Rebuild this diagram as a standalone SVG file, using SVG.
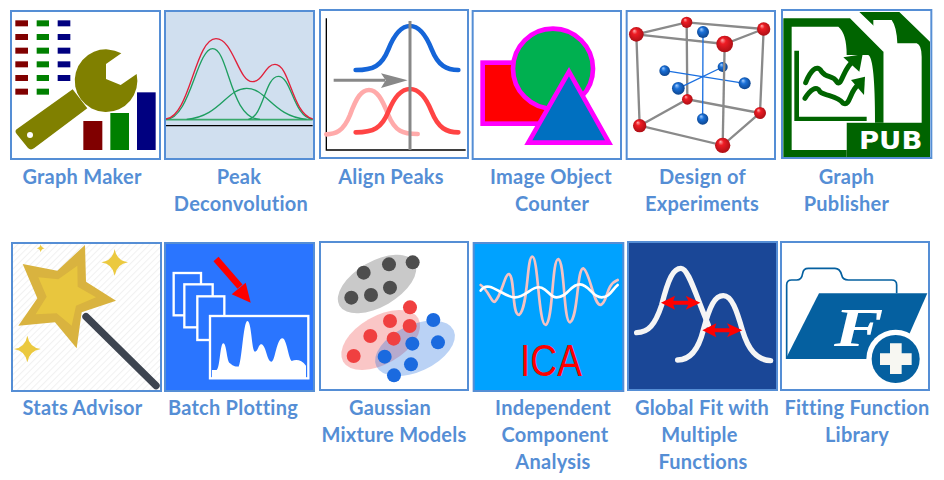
<svg xmlns="http://www.w3.org/2000/svg" xmlns:xlink="http://www.w3.org/1999/xlink" width="944" height="480" viewBox="0 0 944 480">
<defs>
<style>
.frame{fill:none;stroke:#558ed5;stroke-width:6}
.lbl{font-family:Lato,"Open Sans","Liberation Sans",sans-serif;font-weight:700;font-size:20px;fill:#558ed5;text-anchor:middle;letter-spacing:.25px}
.ln{fill:none;stroke-linecap:round}
.gn{fill:none;stroke:#1e9e60;stroke-width:4}
.gy{stroke:#8a8a8a;stroke-width:7;fill:none}
.bl{stroke:#1a6fe0;stroke-width:4;fill:none}
.rb{fill:url(#ballR)}
.bb{fill:url(#ballB)}
.dg{fill:#4d4d4d}
.dr{fill:#f04040}
.db{fill:#1a6adf}
.dark{fill:#006400}
</style>
<radialGradient id="ballR" cx=".5" cy=".5" r=".6" fx=".35" fy=".25"><stop offset="0" stop-color="#ffb0b0"/><stop offset=".3" stop-color="#ee1c24"/><stop offset="1" stop-color="#a00c12"/></radialGradient>
<radialGradient id="ballB" cx=".5" cy=".5" r=".6" fx=".35" fy=".25"><stop offset="0" stop-color="#a8d0ff"/><stop offset=".35" stop-color="#1a70d8"/><stop offset="1" stop-color="#0a3c80"/></radialGradient>
<pattern id="hatch" width="14" height="14" patternUnits="userSpaceOnUse" patternTransform="rotate(45)"><rect width="14" height="14" fill="#fff"/><rect width="3" height="14" fill="#f1f1f1"/></pattern>
<path id="spark" d="M-40,0Q-6,-5 0,-40Q6,-5 40,0Q6,5 0,40Q-6,5 -40,0Z" fill="#ebc93f"/>
</defs>

<g id="graph-maker">
<g transform="scale(.33333)">
<rect x="33" y="33" width="447" height="444" fill="#fff"/>
<g fill="#800000"><rect x="46" y="61" width="38" height="18"/><rect x="46" y="102" width="38" height="18"/><rect x="46" y="143" width="38" height="18"/><rect x="46" y="184" width="38" height="18"/><rect x="46" y="225" width="38" height="18"/><rect x="46" y="266" width="38" height="18"/><rect x="250" y="363" width="57" height="87"/></g>
<g fill="#008000"><rect x="110" y="61" width="37" height="18"/><rect x="110" y="102" width="37" height="18"/><rect x="110" y="143" width="37" height="18"/><rect x="110" y="184" width="37" height="18"/><rect x="110" y="225" width="37" height="18"/><rect x="110" y="266" width="37" height="18"/><rect x="331" y="339" width="56" height="111"/></g>
<g fill="#000080"><rect x="173" y="61" width="38" height="18"/><rect x="173" y="102" width="38" height="18"/><rect x="173" y="143" width="38" height="18"/><rect x="173" y="184" width="38" height="18"/><rect x="173" y="225" width="38" height="18"/><rect x="411" y="277" width="56" height="173"/></g>
<path fill="#808000" d="M364,160L318,192L318,237L362,255L410,222A94,94 0 1 1 364,160Z"/>
<path fill="#808000" d="M218,268L262,325L102,445Q92,452 84,444L50,402Q42,392 52,386Z"/>
<circle cx="90" cy="405" r="9" fill="#fff"/>
<rect class="frame" x="33" y="33" width="447" height="444"/>
</g>
<text class="lbl" x="82" y="183.500">Graph Maker</text>
</g>

<g id="peak-deconvolution">
<g transform="scale(.33333)">
<rect x="495" y="33" width="447" height="444" fill="#d0dfef"/>
<path d="M498,359H938" stroke="#3aa96c" stroke-width="5"/>
<path d="M498,377H938" stroke="#000" stroke-width="4"/>
<path class="gn" d="M498,358C570,358 590,146 638,146C686,146 690,358 780,358"/>
<path class="gn" d="M560,358C660,350 680,265 740,265C800,265 820,350 920,358"/>
<path class="gn" d="M745,358C790,352 795,229 835,229C875,229 880,352 938,358"/>
<path d="M498,357C570,350 585,116 648,116C700,116 715,245 757,245C790,245 795,193 825,193C870,193 875,340 938,357" fill="none" stroke="#e0203a" stroke-width="4"/>
<rect class="frame" x="495" y="33" width="447" height="444"/>
</g>
<text class="lbl" x="239" y="183.500">Peak</text>
<text class="lbl" x="241" y="210.500">Deconvolution</text>
</g>

<g id="align-peaks">
<g transform="translate(315,0) scale(.33333)">
<rect x="15" y="30" width="444" height="444" fill="#fff"/>
<path d="M34,55V450M32,450H452" stroke="#000" stroke-width="4" fill="none"/>
<path class="ln" stroke="#ffaaaa" stroke-width="14" d="M34,403C60,403 85,395 105,345C125,290 140,270 162,270C185,270 200,295 220,345C240,395 265,402 308,402"/>
<path class="ln" stroke="#ff4444" stroke-width="14" d="M122,397C175,397 200,385 220,335C240,285 260,267 285,267C310,267 330,285 350,335C370,385 395,397 430,397"/>
<path class="ln" stroke="#1565d8" stroke-width="14" d="M122,210C175,210 200,198 220,148C240,98 260,78 285,78C310,78 330,98 350,148C370,198 395,210 430,210"/>
<path d="M285,63V450" stroke="#888" stroke-width="9"/>
<path d="M56,241H210" stroke="#888" stroke-width="9"/>
<path d="M198,220L278,241L198,264L212,241Z" fill="#888"/>
<rect class="frame" x="15" y="30" width="444" height="444"/>
</g>
<text class="lbl" x="391" y="183.500">Align Peaks</text>
</g>

<g id="image-object-counter">
<g transform="translate(315,0) scale(.33333)">
<rect x="473" y="33" width="445" height="444" fill="#fff"/>
<rect x="503" y="188" width="195" height="183" fill="#f00" stroke="#f0f" stroke-width="14"/>
<circle cx="714" cy="206" r="120" fill="#00b050" stroke="#f0f" stroke-width="14"/>
<path d="M762,215L640,428H882Z" fill="#0070c0" stroke="#f0f" stroke-width="14"/>
<rect class="frame" x="473" y="33" width="445" height="444"/>
</g>
<text class="lbl" x="551" y="183.500">Image Object</text>
<text class="lbl" x="552" y="210.500">Counter</text>
</g>

<g id="design-of-experiments">
<g transform="translate(620,0) scale(.33333)">
<rect x="20" y="33" width="445" height="444" fill="#fff"/>
<path class="gy" d="M49,103L200,67L431,87L314,132ZM59,377L202,298L420,339L308,436ZM49,103L59,377M200,67L202,298M431,87L420,339"/>
<circle class="rb" cx="200" cy="67" r="17"/><circle class="rb" cx="202" cy="298" r="16"/>
<path class="bl" d="M249,96L248,357M134,212L374,250M175,265L308,201"/>
<circle class="bb" cx="249" cy="96" r="18"/><circle class="bb" cx="248" cy="357" r="17"/><circle class="bb" cx="134" cy="212" r="16"/><circle class="bb" cx="374" cy="250" r="18"/><circle class="bb" cx="175" cy="265" r="19"/><circle class="bb" cx="308" cy="201" r="15"/>
<path class="gy" d="M314,132L308,436"/>
<circle class="rb" cx="49" cy="103" r="22"/><circle class="rb" cx="431" cy="87" r="20"/><circle class="rb" cx="314" cy="132" r="25"/><circle class="rb" cx="59" cy="377" r="20"/><circle class="rb" cx="420" cy="339" r="18"/><circle class="rb" cx="308" cy="436" r="23"/>
<rect class="frame" x="20" y="33" width="445" height="444"/>
</g>
<text class="lbl" x="702.500" y="183.500">Design of</text>
<text class="lbl" x="702" y="210.500">Experiments</text>
</g>

<g id="graph-publisher">
<g transform="translate(620,0) scale(.33333)">
<rect x="486" y="30" width="448" height="444" fill="#fff"/>
<path class="dark" d="M718,36H838L930,125V472H680V368H790V105Z"/>
<path fill="#fff" d="M760,60H815Q830,80 832,130H890Q905,135 905,170V368H790V155L760,125Z"/>
<path class="dark" d="M490,55H690L790,155V368H680V472H490Z"/>
<path fill="#fff" d="M515,80H655Q680,100 680,165H745Q765,175 765,368H680V450H515Z"/>
<path class="dark" d="M523,152H537V350H740V363H523Z"/>
<path class="ln" stroke="#006400" stroke-width="15" d="M557,248C570,215 590,190 605,215C620,235 640,225 650,245C665,265 670,200 700,185"/>
<path class="dark" d="M670,172L728,163L718,215Z"/>
<path class="ln" stroke="#006400" stroke-width="15" d="M555,295C570,270 590,255 600,275C620,290 650,285 670,310C690,320 690,270 715,255"/>
<path class="dark" d="M693,240L735,230L732,285Z"/>
<text x="717" y="448" font-family="DejaVu Sans,sans-serif" font-weight="700" font-size="76" fill="#fff" textLength="190" lengthAdjust="spacingAndGlyphs">PUB</text>
<rect class="frame" x="486" y="30" width="448" height="444"/>
</g>
<text class="lbl" x="846.500" y="183.500">Graph</text>
<text class="lbl" x="846.500" y="210.500">Publisher</text>
</g>

<g id="stats-advisor">
<g transform="translate(0,235) scale(.33333)">
<rect x="36" y="24" width="447" height="444" fill="url(#hatch)"/>
<path d="M258,245L468,452" stroke="#3d4450" stroke-width="22" stroke-linecap="round"/>
<path fill="#d9b33f" d="M68,87L172,107L255,30L258,140L348,197L245,232L230,340L165,262L55,272L112,190Z"/>
<path fill="#e8c63e" d="M115,127L175,133L232,92L233,155L288,187L228,212L215,272L170,235L107,238L140,185Z"/>
<use href="#spark" xlink:href="#spark" transform="translate(344,82)"/>
<use href="#spark" xlink:href="#spark" transform="translate(122,40) scale(.3)"/>
<use href="#spark" xlink:href="#spark" transform="translate(82,342)"/>
<rect class="frame" x="36" y="24" width="447" height="444"/>
</g>
<text class="lbl" x="82.500" y="414.500">Stats Advisor</text>
</g>

<g id="batch-plotting">
<g transform="translate(0,235) scale(.33333)">
<rect x="495" y="24" width="447" height="444" fill="#2a75ff"/>
<path d="M648,72L720,155" stroke="#f00" stroke-width="20"/>
<path d="M695,178L737,143L752,203Z" fill="#f00"/>
<g fill="#2a75ff" stroke="#fff" stroke-width="7"><rect x="521" y="114" width="82" height="127"/><rect x="553" y="148" width="85" height="129"/><rect x="592" y="184" width="81" height="131"/><rect x="630" y="243" width="295" height="187"/></g>
<path fill="#fff" d="M636,405H650C660,400 660,325 670,325C680,325 680,380 690,385C700,395 710,395 715,395C725,390 730,258 742,258C755,258 755,350 765,350C775,350 775,325 785,328C800,335 800,380 815,380C825,380 830,310 847,310C860,310 865,370 875,378C890,372 905,375 918,392V430H636Z"/>
<rect class="frame" x="495" y="24" width="447" height="444"/>
</g>
<text class="lbl" x="233" y="414.500">Batch Plotting</text>
</g>

<g id="gaussian-mixture-models">
<g transform="translate(315,235) scale(.33333)">
<rect x="15" y="21" width="444" height="444" fill="#fff"/>
<ellipse cx="186" cy="147" rx="130" ry="68" transform="rotate(-30 186 147)" fill="#c9c9c9"/>
<ellipse cx="197" cy="315" rx="130" ry="72" transform="rotate(-30 197 315)" fill="#ee3333" fill-opacity=".28"/>
<ellipse cx="300" cy="340" rx="128" ry="70" transform="rotate(-25 300 340)" fill="#1a6adf" fill-opacity=".3"/>
<g class="dg"><circle cx="146" cy="113" r="21"/><circle cx="222" cy="88" r="21"/><circle cx="293" cy="82" r="21"/><circle cx="109" cy="188" r="21"/><circle cx="168" cy="180" r="21"/><circle cx="225" cy="158" r="21"/></g>
<g class="dr"><circle cx="285" cy="217" r="21"/><circle cx="225" cy="258" r="21"/><circle cx="284" cy="273" r="21"/><circle cx="166" cy="303" r="21"/><circle cx="236" cy="311" r="21"/><circle cx="116" cy="363" r="21"/></g>
<g class="db"><circle cx="355" cy="255" r="21"/><circle cx="369" cy="322" r="21"/><circle cx="292" cy="326" r="21"/><circle cx="209" cy="365" r="21"/><circle cx="288" cy="388" r="21"/><circle cx="237" cy="421" r="21"/></g>
<rect class="frame" x="15" y="21" width="444" height="444"/>
</g>
<text class="lbl" x="390" y="414.500">Gaussian</text>
<text class="lbl" x="394" y="441.500">Mixture Models</text>
</g>

<g id="independent-component-analysis">
<g transform="translate(315,235) scale(.33333)">
<rect x="476" y="24" width="449" height="444" fill="#00a2ff"/>
<path class="ln" stroke="#f5c2c2" stroke-width="8" d="M497,150C520,165 530,205 540,200C560,180 570,115 582,117C600,125 590,240 612,240C640,220 635,65 652,65C670,65 670,270 692,270C715,260 710,72 730,72C750,80 745,262 765,262C790,250 785,100 805,100C825,110 835,210 857,210C880,200 870,150 908,135"/>
<path class="ln" stroke="#fff" stroke-width="8" d="M497,167C520,130 565,188 600,187C635,186 650,150 680,158C700,165 705,187 725,187C760,187 765,147 795,148C825,150 830,187 860,187C885,187 890,165 908,150"/>
<text x="615" y="422" font-family="Liberation Sans,sans-serif" font-size="135" fill="#f00" textLength="186" lengthAdjust="spacingAndGlyphs">ICA</text>
<rect class="frame" x="476" y="24" width="449" height="444"/>
</g>
<text class="lbl" x="553" y="414.500">Independent</text>
<text class="lbl" x="555" y="441.500">Component</text>
<text class="lbl" x="553" y="468.500">Analysis</text>
</g>

<g id="global-fit-multiple-functions">
<g transform="translate(620,235) scale(.33333)">
<rect x="24" y="21" width="447" height="444" fill="#1a4797"/>
<path class="ln" stroke="#f5f5f5" stroke-width="16" d="M50,293C85,293 105,270 125,210C145,130 160,100 183,100C205,100 225,175 265,270"/>
<path class="ln" stroke="#f5f5f5" stroke-width="16" d="M173,375C210,375 235,345 250,285C270,210 285,182 310,182C335,182 350,225 367,285C385,345 410,375 452,377"/>
<path fill="#f00" d="M123,203L165,182L160,197H205L197,182L241,203L197,224L205,209H160L165,224Z"/>
<path fill="#f00" d="M247,286L289,265L284,280H329L321,265L367,286L321,307L329,292H284L289,307Z"/>
<rect class="frame" x="24" y="21" width="447" height="444"/>
</g>
<text class="lbl" x="702" y="414.500">Global Fit with</text>
<text class="lbl" x="699.500" y="441.500">Multiple</text>
<text class="lbl" x="703" y="468.500">Functions</text>
</g>

<g id="fitting-function-library">
<g transform="translate(620,235) scale(.33333)">
<rect x="483" y="21" width="444" height="444" fill="#fff"/>
<path fill="none" stroke="#0560a0" stroke-width="5" d="M500,370V150Q500,135 515,135H530Q545,135 548,115Q550,100 565,100H645Q660,100 665,120Q668,135 685,135H815Q830,135 830,150V175"/>
<path fill="#0560a0" d="M597,175H922L835,372H497Z"/>
<text x="642" y="333" font-family="Liberation Serif,serif" font-weight="700" font-style="italic" font-size="165" fill="#fff" textLength="148" lengthAdjust="spacingAndGlyphs">F</text>
<circle cx="827" cy="372" r="88" fill="#fff"/>
<circle cx="827" cy="372" r="72" fill="#0560a0"/>
<path fill="#f7f7f2" d="M810,325H845V355H875V390H845V417H810V390H780V355H810Z"/>
<rect class="frame" x="483" y="21" width="444" height="444"/>
</g>
<text class="lbl" x="857" y="414.500">Fitting Function</text>
<text class="lbl" x="857" y="441.500">Library</text>
</g>
</svg>
